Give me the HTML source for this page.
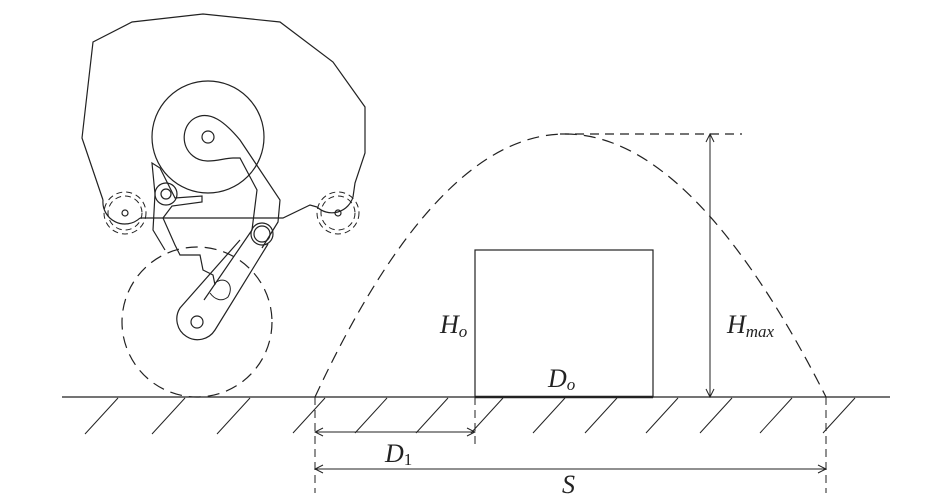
<!DOCTYPE html>
<html><head><style>body{margin:0;background:#fff}svg{display:block}text{font-family:"Liberation Serif",serif;font-style:italic;fill:#222}</style></head><body>
<svg width="948" height="503" viewBox="0 0 948 503" xmlns="http://www.w3.org/2000/svg">
<defs><marker id="a" markerWidth="10" markerHeight="10" refX="9" refY="5" orient="auto-start-reverse" markerUnits="userSpaceOnUse"><path d="M1,1 L9,5 L1,9" fill="none" stroke="#222" stroke-width="1"/></marker></defs>
<g stroke="#222" stroke-width="1.2" fill="none">
<line x1="62" y1="397" x2="890" y2="397"/>
<g stroke-width="1">
<line x1="118" y1="398" x2="85" y2="434"/><line x1="185" y1="398" x2="152" y2="434"/><line x1="250" y1="398" x2="217" y2="434"/>
<line x1="325" y1="398" x2="293" y2="433"/><line x1="387" y1="398" x2="355" y2="433"/><line x1="448" y1="398" x2="416" y2="433"/>
<line x1="503" y1="398" x2="471" y2="433"/><line x1="565" y1="398" x2="533" y2="433"/><line x1="617" y1="398" x2="585" y2="433"/>
<line x1="678" y1="398" x2="646" y2="433"/><line x1="732" y1="398" x2="700" y2="433"/><line x1="792" y1="398" x2="760" y2="433"/><line x1="855" y1="398" x2="823" y2="433"/>
</g>
<rect x="475" y="250" width="178" height="147"/>
<line x1="475" y1="397" x2="653" y2="397" stroke-width="2.5"/>
<path d="M315,397 Q560,-129 826,397" stroke-dasharray="12,7"/>
<line x1="560" y1="134" x2="742" y2="134" stroke-dasharray="9,6"/>
<line x1="710" y1="134" x2="710" y2="397" marker-start="url(#a)" marker-end="url(#a)" stroke-width="1"/>
<g stroke-dasharray="8,5" stroke-width="1"><line x1="315" y1="397" x2="315" y2="493"/><line x1="475" y1="397" x2="475" y2="446"/><line x1="826" y1="397" x2="826" y2="493"/></g>
<line x1="315" y1="432" x2="475" y2="432" marker-start="url(#a)" marker-end="url(#a)" stroke-width="1"/>
<line x1="315" y1="469" x2="826" y2="469" marker-start="url(#a)" marker-end="url(#a)" stroke-width="1"/>
<path d="M140,218 L283,218 L310,205 L317,207 M353,197 L355,183 L365,153 L365,107 L333,62 L280,22 L203,14 L132,22 L93,42 L82,138 L103,200"/>
<path d="M103,200 A22,22 0 0 0 140,218"/>
<path d="M317,207 A22,22 0 0 0 353,197"/>
<g stroke-dasharray="6,4" stroke-width="1"><circle cx="125" cy="213" r="17"/><circle cx="125" cy="213" r="21"/><circle cx="338" cy="213" r="17"/><circle cx="338" cy="213" r="21"/></g>
<circle cx="125" cy="213" r="3"/><circle cx="338" cy="213" r="3"/>
<circle cx="208" cy="137" r="56"/><circle cx="208" cy="137" r="6"/>
<path d="M233,158 C222,158 205,166 193,156 C180,146 182,125 195,118 C210,110 225,122 240,140 L280,200 L278,222 L262,248 M233,158 L240,158 L257,190 L252,230 L204,300"/>
<circle cx="166" cy="194" r="11"/><circle cx="166" cy="194" r="5"/>
<path d="M155,194 L152,163 L160,168 L175,198 L202,196 L202,202 L172,206 L163,218 L175,245 L180,255 L200,255 L203,270 L213,275 L215,285"/>
<path d="M155,194 L153,230 L165,250"/>
<circle cx="262" cy="234" r="11"/><circle cx="262" cy="234" r="8"/>
<path d="M268,244 L215,330 A20,20 0 1 1 180,308 L240,240"/>
<circle cx="197" cy="322" r="6"/>
<path d="M215,283 C225,275 235,285 228,297 C222,302 215,300 210,293" stroke-width="1"/>
<circle cx="197" cy="322" r="75" stroke-dasharray="12,7"/>
</g>
<text x="440" y="333" font-size="26">H<tspan font-size="17" dy="4">o</tspan></text>
<text x="727" y="333" font-size="26">H<tspan font-size="17" dy="4">max</tspan></text>
<text x="548" y="387" font-size="26">D<tspan font-size="17" dy="3">o</tspan></text>
<text x="385" y="462" font-size="26">D<tspan font-size="17" font-style="normal" dy="3">1</tspan></text>
<text x="562" y="493" font-size="26">S</text>
</svg>
</body></html>
